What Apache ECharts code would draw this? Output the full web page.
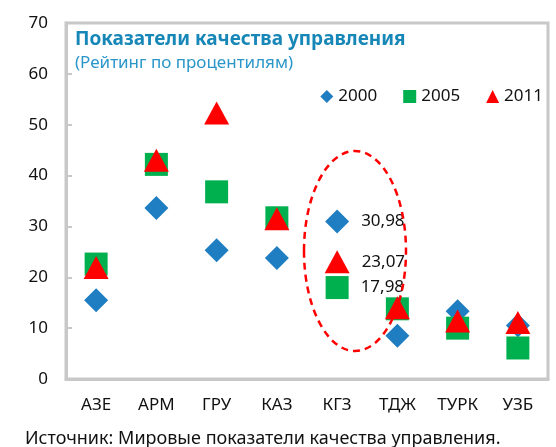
<!DOCTYPE html>
<html>
<head>
<meta charset="utf-8">
<script src="https://cdn.jsdelivr.net/npm/echarts@6/dist/echarts.min.js"></script>
<style>
  html, body { margin: 0; padding: 0; background: #fff; }
  #main { width: 556px; height: 447px; }
</style>
</head>
<body>
<div id="main"></div>
<script>
// страны
var categories = ['АЗЕ', 'АРМ', 'ГРУ', 'КАЗ', 'КГЗ', 'ТДЖ', 'ТУРК', 'УЗБ'];
// значения по годам (оценка по картинке, КГЗ — подписанные)
var values2000 = [15.5, 33.6, 25.3, 23.8, 30.98, 8.5, 13.3, 10.5];
var values2005 = [22.6, 42.2, 36.8, 31.7, 17.98, 13.8, 10.0, 6.1];
var values2011 = [21.9, 43.0, 52.3, 31.5, 23.07, 14.0, 11.4, 11.1];
var labelIndex = 4; // КГЗ подписан

var FONT = 'Noto Sans';

function points(arr) {
    return arr.map(function (v, i) {
        if (i === labelIndex) {
            return { value: v, label: { show: true } };
        }
        return v;
    });
}

var labelStyle = {
    show: false,
    position: 'right',
    distance: 12,
    color: '#111',
    fontFamily: FONT,
    fontSize: 17,
    formatter: function (p) { return String(p.value).replace('.', ','); }
};

var option = {
    animation: false,
    title: [{
        text: 'Показатели качества управления',
        subtext: '(Рейтинг по процентилям)',
        left: 70,
        top: 25,
        itemGap: 6,
        textStyle: { color: '#1787b8', fontFamily: FONT, fontSize: 19, fontWeight: 'bold' },
        subtextStyle: { color: '#2a96c9', fontFamily: FONT, fontSize: 17 }
    }, {
        text: 'Источник: Мировые показатели качества управления.',
        left: 20,
        top: 425,
        textStyle: { color: '#111', fontFamily: FONT, fontSize: 18, fontWeight: 'normal' }
    }],
    legend: {
        top: 83,
        right: 8,
        itemGap: 26,
        itemWidth: 13,
        itemHeight: 13,
        textStyle: { fontFamily: FONT, fontSize: 17, color: '#111' },
        data: ['2000', '2005', '2011']
    },
    grid: { left: 66, right: 8, top: 23, bottom: 68, show: true, borderColor: '#c8c8c8', borderWidth: 3 },
    xAxis: {
        type: 'category',
        data: categories,
        axisLine: { lineStyle: { color: '#c8c8c8', width: 3 } },
        axisTick: { inside: true, length: 6, lineStyle: { color: '#c8c8c8', width: 2 } },
        axisLabel: { color: '#111', fontFamily: FONT, fontSize: 17, margin: 18 }
    },
    yAxis: {
        type: 'value',
        min: 0,
        max: 70,
        interval: 10,
        splitLine: { show: false },
        axisLine: { show: true, lineStyle: { color: '#c8c8c8', width: 3 } },
        axisTick: { show: true, inside: true, length: 6, lineStyle: { color: '#c8c8c8', width: 2 } },
        axisLabel: { color: '#111', fontFamily: FONT, fontSize: 17, margin: 18 }
    },
    series: [{
        name: '2000',
        type: 'scatter',
        symbol: 'diamond',
        symbolSize: 24,
        itemStyle: { color: '#1f7ec1', opacity: 1 },
        label: labelStyle,
        data: points(values2000)
    }, {
        name: '2005',
        type: 'scatter',
        symbol: 'rect',
        symbolSize: 23,
        itemStyle: { color: '#00b04f', opacity: 1 },
        label: labelStyle,
        data: points(values2005)
    }, {
        name: '2011',
        type: 'scatter',
        symbol: 'triangle',
        symbolSize: [25, 23],
        itemStyle: { color: '#ff0000', opacity: 1 },
        label: labelStyle,
        data: points(values2011)
    }],
    graphic: [{
        type: 'ellipse',
        shape: { cx: 355, cy: 251, rx: 51, ry: 100 },
        style: { fill: 'none', stroke: '#ff0000', lineWidth: 2.5, lineDash: [7, 5] },
        z: 10
    }]
};

echarts.init(document.getElementById('main')).setOption(option);
</script>
</body>
</html>
